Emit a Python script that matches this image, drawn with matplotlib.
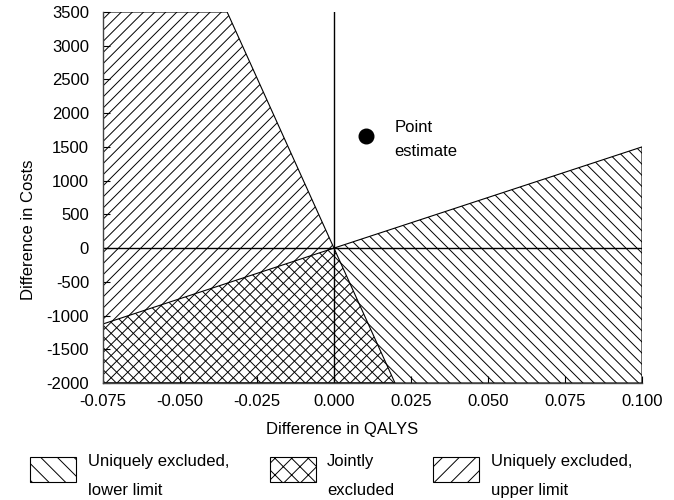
import matplotlib
matplotlib.use("Agg")
import matplotlib.pyplot as plt
from matplotlib.patches import Polygon, Rectangle

plt.rcParams['font.family'] = ['Liberation Sans', 'DejaVu Sans']
plt.rcParams['hatch.linewidth'] = 0.7
plt.rcParams['axes.unicode_minus'] = False

# axis ranges
x_range = [-0.075, 0.100]
y_range = [-2000, 3500]
x_ticks = [-0.075, -0.050, -0.025, 0.000, 0.025, 0.050, 0.075, 0.100]
y_ticks = [-2000, -1500, -1000, -500, 0, 500, 1000, 1500, 2000, 2500, 3000, 3500]

# limit lines (end points where they leave the plot)
upper_limit_x = [-0.0347, 0.0198]
upper_limit_y = [3500, -2000]
lower_limit_x = [-0.075, 0.100]
lower_limit_y = [-1125, 1500]

# point estimate
point_x = [0.0105]
point_y = [1660]

legend_labels = [("Uniquely excluded,", "lower limit"),
                 ("Jointly", "excluded"),
                 ("Uniquely excluded,", "upper limit")]
legend_hatches = ['\\\\', 'xx', '//']

fig = plt.figure(figsize=(6.74, 5.0), dpi=100)
ax = fig.add_axes([103/674, 1-383/500, 539/674, 371/500])
ax.set_xlim(x_range)
ax.set_ylim(y_range)

xmin, xmax = x_range
ymin, ymax = y_range

# region excluded by the upper limit (left of the steep line)
up_poly = Polygon([(xmin, ymax), (upper_limit_x[0], upper_limit_y[0]),
                   (upper_limit_x[1], upper_limit_y[1]), (xmin, ymin)],
                  closed=True, facecolor='white', edgecolor='black',
                  hatch='///', linewidth=0.8, zorder=1)
# region excluded by the lower limit (below the shallow line)
lo_poly = Polygon([(lower_limit_x[0], lower_limit_y[0]),
                   (lower_limit_x[1], lower_limit_y[1]),
                   (xmax, ymin), (xmin, ymin)],
                  closed=True, facecolor='none', edgecolor='black',
                  hatch='\\\\\\', linewidth=0.8, zorder=2)
ax.add_patch(up_poly)
ax.add_patch(lo_poly)

ax.axhline(0, color='black', linewidth=1.0, zorder=3)
ax.axvline(0, color='black', linewidth=1.0, zorder=3)

ax.plot(point_x, point_y, 'o', color='black', markersize=10.5, zorder=4)
ax.annotate("Point", (point_x[0], point_y[0]), xytext=(28, 4),
            textcoords='offset pixels', fontsize=12, va='baseline')
ax.annotate("estimate", (point_x[0], point_y[0]), xytext=(28, -20),
            textcoords='offset pixels', fontsize=12, va='baseline')

ax.set_xticks(x_ticks)
ax.set_xticklabels([f"{v:.3f}" for v in x_ticks])
ax.set_yticks(y_ticks)
ax.tick_params(direction='in', length=5, width=0.8, labelsize=12)
ax.tick_params(axis='y', pad=10)
ax.tick_params(axis='x', pad=8)
for s in ['top', 'right']:
    ax.spines[s].set_visible(False)
for s in ['left', 'bottom']:
    ax.spines[s].set_linewidth(1.0)
    ax.spines[s].set_color('#444444')
    ax.spines[s].set_zorder(5)

ax.set_xlabel("Difference in QALYS", fontsize=12, va='center')
ax.set_ylabel("Difference in Costs", fontsize=12, va='center')
ax.xaxis.set_label_coords(0.443, -0.124)
ax.yaxis.set_label_coords(-0.139, 0.412)

# legend drawn by hand below the plot
box_x = [30, 270, 433]
text_x = [88, 327, 491]
for bx, tx, (l1, l2), h in zip(box_x, text_x, legend_labels, legend_hatches):
    fig.patches.append(Rectangle((bx/674, 1-482/500), 46/674, 25/500,
                                 transform=fig.transFigure, facecolor='white',
                                 edgecolor='black', hatch=h, linewidth=0.8))
    fig.text(tx/674, 1-466/500, l1, fontsize=12, va='baseline')
    fig.text(tx/674, 1-495/500, l2, fontsize=12, va='baseline')

fig.savefig("out.png", dpi=100)
